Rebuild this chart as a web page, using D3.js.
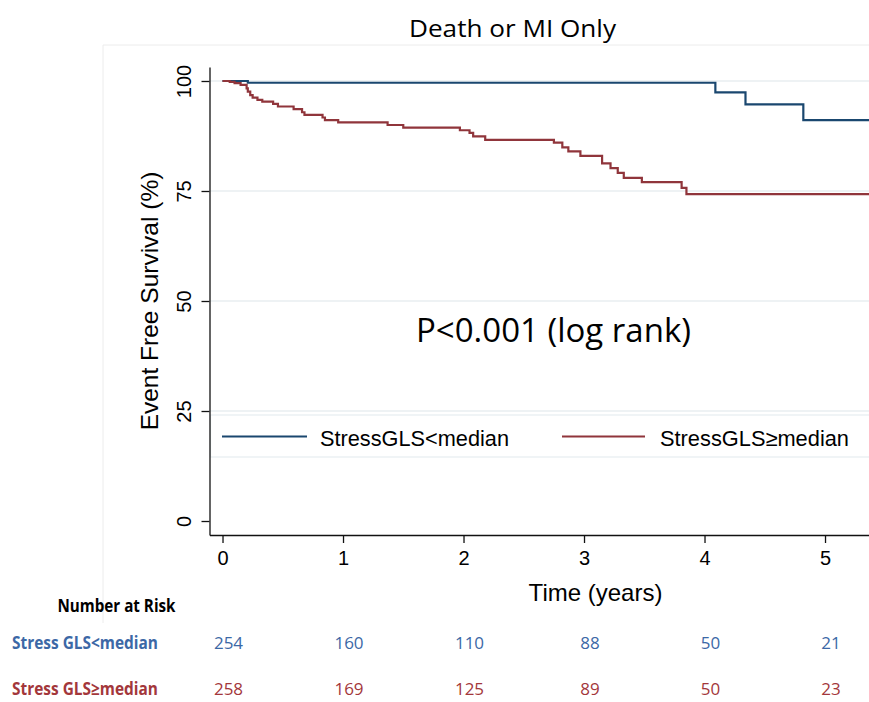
<!DOCTYPE html>
<html>
<head>
<meta charset="utf-8">
<script src="https://cdn.jsdelivr.net/npm/d3@7"></script>
<style>
  body { margin: 0; background: #fff; }
  svg { display: block; }
  .ui-sans { font-family: "Liberation Sans", Arial, Helvetica, sans-serif; fill: #000; }
  .ui-cal { font-family: "Open Sans", "Noto Sans", sans-serif; }
</style>
</head>
<body>
<div id="chart"></div>
<script>
var title = "Death or MI Only";
var yTitle = "Event Free Survival (%)";
var xTitle = "Time (years)";
var pText = "P<0.001 (log rank)";

var yTicks = [0, 25, 50, 75, 100];
var xTicks = [0, 1, 2, 3, 4, 5];
var gridValues = [25, 50, 75, 100];

var groups = ["StressGLS<median", "StressGLS\u2265median"];
var riskLabels = ["Stress GLS<median", "Stress GLS\u2265median"];

// Kaplan-Meier steps
var lowTimes = [0, 0.21, 4.09, 4.34, 4.82];
var lowSurv = [100, 99.6, 97.4, 94.7, 91.1];

var highTimes = [0, 0.06, 0.10, 0.15, 0.20, 0.21, 0.23, 0.25, 0.29, 0.33, 0.42, 0.46,
  0.59, 0.66, 0.68, 0.83, 0.85, 0.96, 1.37, 1.50, 1.97, 2.05, 2.08, 2.18, 2.75, 2.82,
  2.87, 2.97, 3.15, 3.22, 3.28, 3.33, 3.48, 3.81, 3.85];
var highSurv = [100, 99.8, 99.5, 99.1, 98.3, 97.6, 96.8, 96.2, 95.7, 95.3, 94.8, 94.2,
  93.6, 92.9, 92.3, 91.7, 91.1, 90.6, 90.0, 89.4, 88.8, 88.2, 87.4, 86.6, 86.0, 84.9,
  84.0, 83.0, 81.3, 80.2, 79.1, 78.0, 77.0, 75.7, 74.3];

var riskTimes = [0, 1, 2, 3, 4, 5];
var riskLow = [254, 160, 110, 88, 50, 21];
var riskHigh = [258, 169, 125, 89, 50, 23];

var blue = "#1a476f";
var red = "#90353b";
var riskBlue = "#3c68a6";
var riskRed = "#a3373b";

var width = 869, height = 702;

var svg = d3.select("#chart").append("svg")
  .attr("width", width)
  .attr("height", height);

var x = d3.scaleLinear().domain([-0.108, 5.365]).range([209.5, 869]);
var y = d3.scaleLinear().domain([-3.18, 103.18]).range([535, 67]);
var tEnd = x.invert(869);

// faint frame of the graph region
svg.append("path")
  .attr("d", "M103,623 L103,45 L869,45")
  .attr("fill", "none")
  .attr("stroke", "#ececec")
  .attr("stroke-width", 1);

svg.append("text")
  .attr("class", "ui-cal")
  .attr("x", 512.5)
  .attr("y", 37)
  .attr("text-anchor", "middle")
  .attr("font-size", 23)
  .attr("textLength", 207)
  .attr("lengthAdjust", "spacingAndGlyphs")
  .attr("fill", "#000")
  .text(title);

// gridlines
svg.append("g").selectAll("line")
  .data(gridValues)
  .enter().append("line")
  .attr("x1", 210).attr("x2", 869)
  .attr("y1", function (d) { return y(d); })
  .attr("y2", function (d) { return y(d); })
  .attr("stroke", "#e8eef1")
  .attr("stroke-width", 1.5);

// legend box
svg.append("rect")
  .attr("x", 210.5).attr("y", 415)
  .attr("width", 700).attr("height", 42)
  .attr("fill", "#fff")
  .attr("stroke", "#e6edf0")
  .attr("stroke-width", 1.2);

var legendItems = [
  { label: groups[0], color: blue, x1: 222, x2: 307, tx: 320 },
  { label: groups[1], color: red, x1: 562, x2: 645, tx: 660 }
];

legendItems.forEach(function (item) {
  svg.append("line")
    .attr("x1", item.x1).attr("x2", item.x2)
    .attr("y1", 436.5).attr("y2", 436.5)
    .attr("stroke", item.color)
    .attr("stroke-width", 2);
  svg.append("text")
    .attr("class", "ui-sans")
    .attr("x", item.tx)
    .attr("y", 446)
    .attr("font-size", 22)
    .attr("textLength", 189)
    .attr("lengthAdjust", "spacingAndGlyphs")
    .text(item.label);
});

// curves
var line = d3.line()
  .x(function (d) { return x(d[0]); })
  .y(function (d) { return y(d[1]); })
  .curve(d3.curveStepAfter);

function curvePoints(times, surv) {
  var pts = times.map(function (t, i) { return [t, surv[i]]; });
  pts.push([tEnd, surv[surv.length - 1]]);
  return pts;
}

svg.append("path")
  .attr("d", line(curvePoints(lowTimes, lowSurv)))
  .attr("fill", "none")
  .attr("stroke", blue)
  .attr("stroke-width", 2.2);

svg.append("path")
  .attr("d", line(curvePoints(highTimes, highSurv)))
  .attr("fill", "none")
  .attr("stroke", red)
  .attr("stroke-width", 2.2);

// axes
var yAxis = svg.append("g")
  .attr("transform", "translate(209.5,0)")
  .call(d3.axisLeft(y).tickValues(yTicks).tickFormat(d3.format("d")).tickSize(8).tickSizeOuter(0));

var xAxis = svg.append("g")
  .attr("transform", "translate(0,535)")
  .call(d3.axisBottom(x).tickValues(xTicks).tickFormat(d3.format("d")).tickSize(8).tickSizeOuter(0));

svg.selectAll("g").attr("font-family", null).attr("font-size", null);

yAxis.selectAll("text")
  .attr("class", "ui-sans")
  .attr("font-size", 20)
  .attr("text-anchor", "middle")
  .attr("transform", "rotate(-90)")
  .attr("x", 0)
  .attr("y", -19)
  .attr("dy", 0)
  .attr("fill", "#000");

xAxis.selectAll("text")
  .attr("class", "ui-sans")
  .attr("font-size", 20)
  .attr("y", 16)
  .attr("fill", "#000");

svg.selectAll(".domain, .tick line")
  .attr("stroke", "#111")
  .attr("stroke-width", 1.3);

svg.append("text")
  .attr("class", "ui-sans")
  .attr("transform", "translate(158,301) rotate(-90)")
  .attr("text-anchor", "middle")
  .attr("font-size", 24.5)
  .text(yTitle);

svg.append("text")
  .attr("class", "ui-sans")
  .attr("x", 595.5)
  .attr("y", 601)
  .attr("text-anchor", "middle")
  .attr("font-size", 24)
  .text(xTitle);

svg.append("text")
  .attr("class", "ui-cal")
  .attr("x", 553.5)
  .attr("y", 342)
  .attr("text-anchor", "middle")
  .attr("font-size", 33)
  .attr("textLength", 275)
  .attr("lengthAdjust", "spacingAndGlyphs")
  .attr("fill", "#000")
  .text(pText);

// number at risk table
svg.append("text")
  .attr("class", "ui-cal")
  .attr("x", 116.5)
  .attr("y", 611.5)
  .attr("text-anchor", "middle")
  .attr("font-size", 18)
  .attr("font-weight", "bold")
  .attr("textLength", 118)
  .attr("lengthAdjust", "spacingAndGlyphs")
  .attr("fill", "#000")
  .text("Number at Risk");

var rows = [
  { label: riskLabels[0], values: riskLow, color: riskBlue, base: 649 },
  { label: riskLabels[1], values: riskHigh, color: riskRed, base: 695 }
];

rows.forEach(function (row) {
  svg.append("text")
    .attr("class", "ui-cal")
    .attr("x", 12)
    .attr("y", row.base)
    .attr("font-size", 17.5)
    .attr("font-weight", "bold")
    .attr("textLength", 146)
    .attr("lengthAdjust", "spacingAndGlyphs")
    .attr("fill", row.color)
    .text(row.label);

  svg.append("g").selectAll("text")
    .data(row.values)
    .enter().append("text")
    .attr("class", "ui-cal")
    .attr("x", function (d, i) { return x(riskTimes[i]) + 6; })
    .attr("y", row.base)
    .attr("text-anchor", "middle")
    .attr("font-size", 17)
    .attr("fill", row.color)
    .text(function (d) { return d; });
});
</script>
</body>
</html>
